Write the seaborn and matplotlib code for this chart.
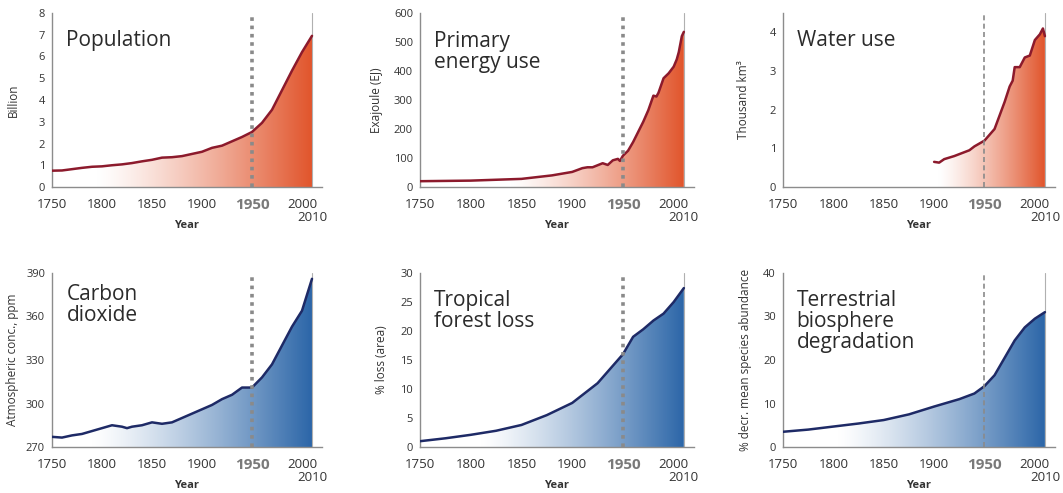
import numpy as np
import pandas as pd
import matplotlib
matplotlib.use("Agg")
import matplotlib.pyplot as plt
import seaborn as sns
from matplotlib.colors import to_rgb

sns.set_style("white")
plt.rcParams["font.family"] = ["Open Sans", "DejaVu Sans"]

# ---- data ----
pop_years = [1750, 1760, 1770, 1780, 1790, 1800, 1810, 1820, 1830, 1840, 1850, 1860, 1870,
             1880, 1890, 1900, 1910, 1920, 1930, 1940, 1950, 1960, 1970, 1980, 1990, 2000, 2010]
pop_vals = [0.75, 0.76, 0.82, 0.88, 0.93, 0.95, 1.0, 1.04, 1.1, 1.18, 1.25, 1.35, 1.37,
            1.42, 1.52, 1.62, 1.8, 1.9, 2.1, 2.3, 2.53, 2.95, 3.55, 4.45, 5.35, 6.2, 6.95]

energy_years = [1750, 1800, 1850, 1860, 1870, 1880, 1890, 1900, 1910, 1915, 1920, 1925, 1930,
                1935, 1940, 1945, 1947, 1950, 1955, 1960, 1965, 1970, 1975, 1980, 1983, 1985,
                1990, 1995, 2000, 2003, 2005, 2008, 2010]
energy_vals = [20, 22, 28, 32, 36, 40, 46, 52, 65, 68, 68, 75, 82, 76, 92, 97, 90, 108, 125,
               155, 190, 225, 265, 315, 312, 325, 375, 392, 415, 440, 465, 520, 535]

water_years = [1900, 1905, 1910, 1920, 1930, 1935, 1940, 1950, 1955, 1960, 1965, 1970, 1975,
               1978, 1980, 1985, 1990, 1995, 2000, 2005, 2008, 2010]
water_vals = [0.65, 0.63, 0.72, 0.8, 0.9, 0.95, 1.05, 1.2, 1.35, 1.5, 1.85, 2.2, 2.6, 2.75,
              3.1, 3.1, 3.35, 3.4, 3.8, 3.95, 4.1, 3.9]

co2_years = [1750, 1760, 1770, 1780, 1790, 1800, 1810, 1820, 1825, 1830, 1840, 1850, 1860,
             1870, 1880, 1890, 1900, 1910, 1920, 1930, 1940, 1950, 1960, 1970, 1980, 1990,
             2000, 2010]
co2_vals = [277, 276.5, 278, 279, 281, 283, 285, 284, 283, 284, 285, 287, 286, 287, 290, 293,
            296, 299, 303, 306, 311, 311, 318, 327, 340, 353, 364, 386]

forest_years = [1750, 1775, 1800, 1825, 1850, 1875, 1900, 1925, 1940, 1950, 1960, 1970, 1980,
                1990, 2000, 2010]
forest_vals = [1.0, 1.5, 2.1, 2.8, 3.8, 5.5, 7.6, 11.0, 14.0, 16.0, 19.0, 20.3, 21.8, 23.0,
               25.0, 27.4]

bio_years = [1750, 1775, 1800, 1825, 1850, 1875, 1900, 1925, 1940, 1950, 1960, 1970, 1980,
             1990, 2000, 2010]
bio_vals = [3.5, 4.0, 4.7, 5.4, 6.2, 7.5, 9.3, 11.0, 12.3, 14.0, 16.5, 20.5, 24.5, 27.5, 29.5, 31.0]

RED, RED_LINE = "#E1552C", "#8C1A2C"
BLUE, BLUE_LINE = "#2C66A8", "#1E2A66"

panels = [
    dict(name="Population", x=pop_years, y=pop_vals, ylabel="Billion", ylim=(0, 8),
         yticks=range(0, 9), fill=RED, line=RED_LINE, grad0=1795, vstyle="thick",
         tpos=(0.05, 0.905), ylx=-0.118),
    dict(name="Primary\nenergy use", x=energy_years, y=energy_vals, ylabel="Exajoule (EJ)",
         ylim=(0, 600), yticks=range(0, 601, 100), fill=RED, line=RED_LINE, grad0=1840,
         vstyle="thick", tpos=(0.05, 0.895), ylx=-0.135),
    dict(name="Water use", x=water_years, y=water_vals, ylabel="Thousand km³", ylim=(0, 4.5),
         yticks=range(0, 5), fill=RED, line=RED_LINE, grad0=1905, vstyle="thin",
         tpos=(0.05, 0.905), ylx=-0.121),
    dict(name="Carbon\ndioxide", x=co2_years, y=co2_vals, ylabel="Atmospheric conc., ppm",
         ylim=(270, 390), yticks=range(270, 391, 30), fill=BLUE, line=BLUE_LINE, grad0=1790,
         vstyle="thick", tpos=(0.055, 0.935), ylx=-0.122),
    dict(name="Tropical\nforest loss", x=forest_years, y=forest_vals, ylabel="% loss (area)",
         ylim=(0, 30), yticks=range(0, 31, 5), fill=BLUE, line=BLUE_LINE, grad0=1810,
         vstyle="thick", tpos=(0.05, 0.905), ylx=-0.117),
    dict(name="Terrestrial\nbiosphere\ndegradation", x=bio_years, y=bio_vals,
         ylabel="% decr. mean species abundance", ylim=(0, 40), yticks=range(0, 41, 10),
         fill=BLUE, line=BLUE_LINE, grad0=1805, vstyle="thin", tpos=(0.05, 0.905), ylx=-0.114),
]

W, H = 1063, 493
fig = plt.figure(figsize=(W / 100, H / 100), dpi=100)

col_left = [52, 420, 783]
col_width = [270, 274, 272]
row_bottom = [187, 447]
ax_h = 174

for i, p in enumerate(panels):
    r, c = divmod(i, 3)
    ax = fig.add_axes([col_left[c] / W, 1 - row_bottom[r] / H, col_width[c] / W, ax_h / H])
    df = pd.DataFrame({"year": p["x"], "val": p["y"]})
    ax.set_xlim(1750, 2020)
    ax.set_ylim(*p["ylim"])

    # gradient fill under the curve, clipped to the area polygon
    poly = ax.fill_between(df["year"], df["val"], p["ylim"][0], facecolor="none", edgecolor="none")
    gx = np.linspace(1750, 2010, 400)
    frac = np.clip((gx - p["grad0"]) / (2010 - p["grad0"]), 0, 1) ** 1.25
    col = np.array(to_rgb(p["fill"]))
    rgb = (1 - frac)[:, None] * np.ones(3) + frac[:, None] * col
    img = ax.imshow(rgb[None, :, :], extent=[1750, 2010, p["ylim"][0], p["ylim"][1]],
                    aspect="auto", origin="lower", zorder=1)
    img.set_clip_path(poly.get_paths()[0], transform=ax.transData)

    sns.lineplot(data=df, x="year", y="val", ax=ax, color=p["line"], lw=1.8, zorder=3)

    # 1950 marker
    if p["vstyle"] == "thick":
        ax.axvline(1950, color="#8a8a8a", lw=2.6, ls=(0, (1, 1.3)), zorder=4)
    else:
        ax.axvline(1950, color="#8a8a8a", lw=1.2, ls=(0, (3, 2)), zorder=4)
    ax.axvline(2010, color="#b0b0b0", lw=0.8, zorder=2)

    for s in ["top", "right"]:
        ax.spines[s].set_visible(False)
    for s in ["left", "bottom"]:
        ax.spines[s].set_color("#8c8c8c")
        ax.spines[s].set_linewidth(1.0)

    ax.set_xticks(range(1750, 2001, 50))
    ax.set_yticks(list(p["yticks"]))
    ax.tick_params(axis="both", direction="out", length=3, width=0.8, colors="#8c8c8c",
                   labelcolor="#333333", pad=2)
    ax.tick_params(axis="x", labelsize=9.5, pad=5)
    ax.tick_params(axis="y", labelsize=8)
    for lab in ax.get_xticklabels():
        if lab.get_text() == "1950":
            lab.set_fontweight("bold")
            lab.set_fontsize(11)
            lab.set_color("#7a7a7a")
    ax.text(2010, -0.178, "2010", transform=ax.get_xaxis_transform(), ha="center", va="center",
            fontsize=9.5, color="#333333")
    ax.set_xlabel("Year", fontsize=8, fontweight="bold", color="#333333")
    ax.xaxis.set_label_coords(0.5, -0.19)
    ax.set_ylabel(p["ylabel"], fontsize=8.5, color="#333333")
    ax.yaxis.set_label_coords(p["ylx"], 0.5)

    ax.text(p["tpos"][0], p["tpos"][1], p["name"], transform=ax.transAxes, ha="left", va="top",
            fontsize=15, color="#2b2b2b", linespacing=1.0)

fig.savefig("out.png", dpi=100)
